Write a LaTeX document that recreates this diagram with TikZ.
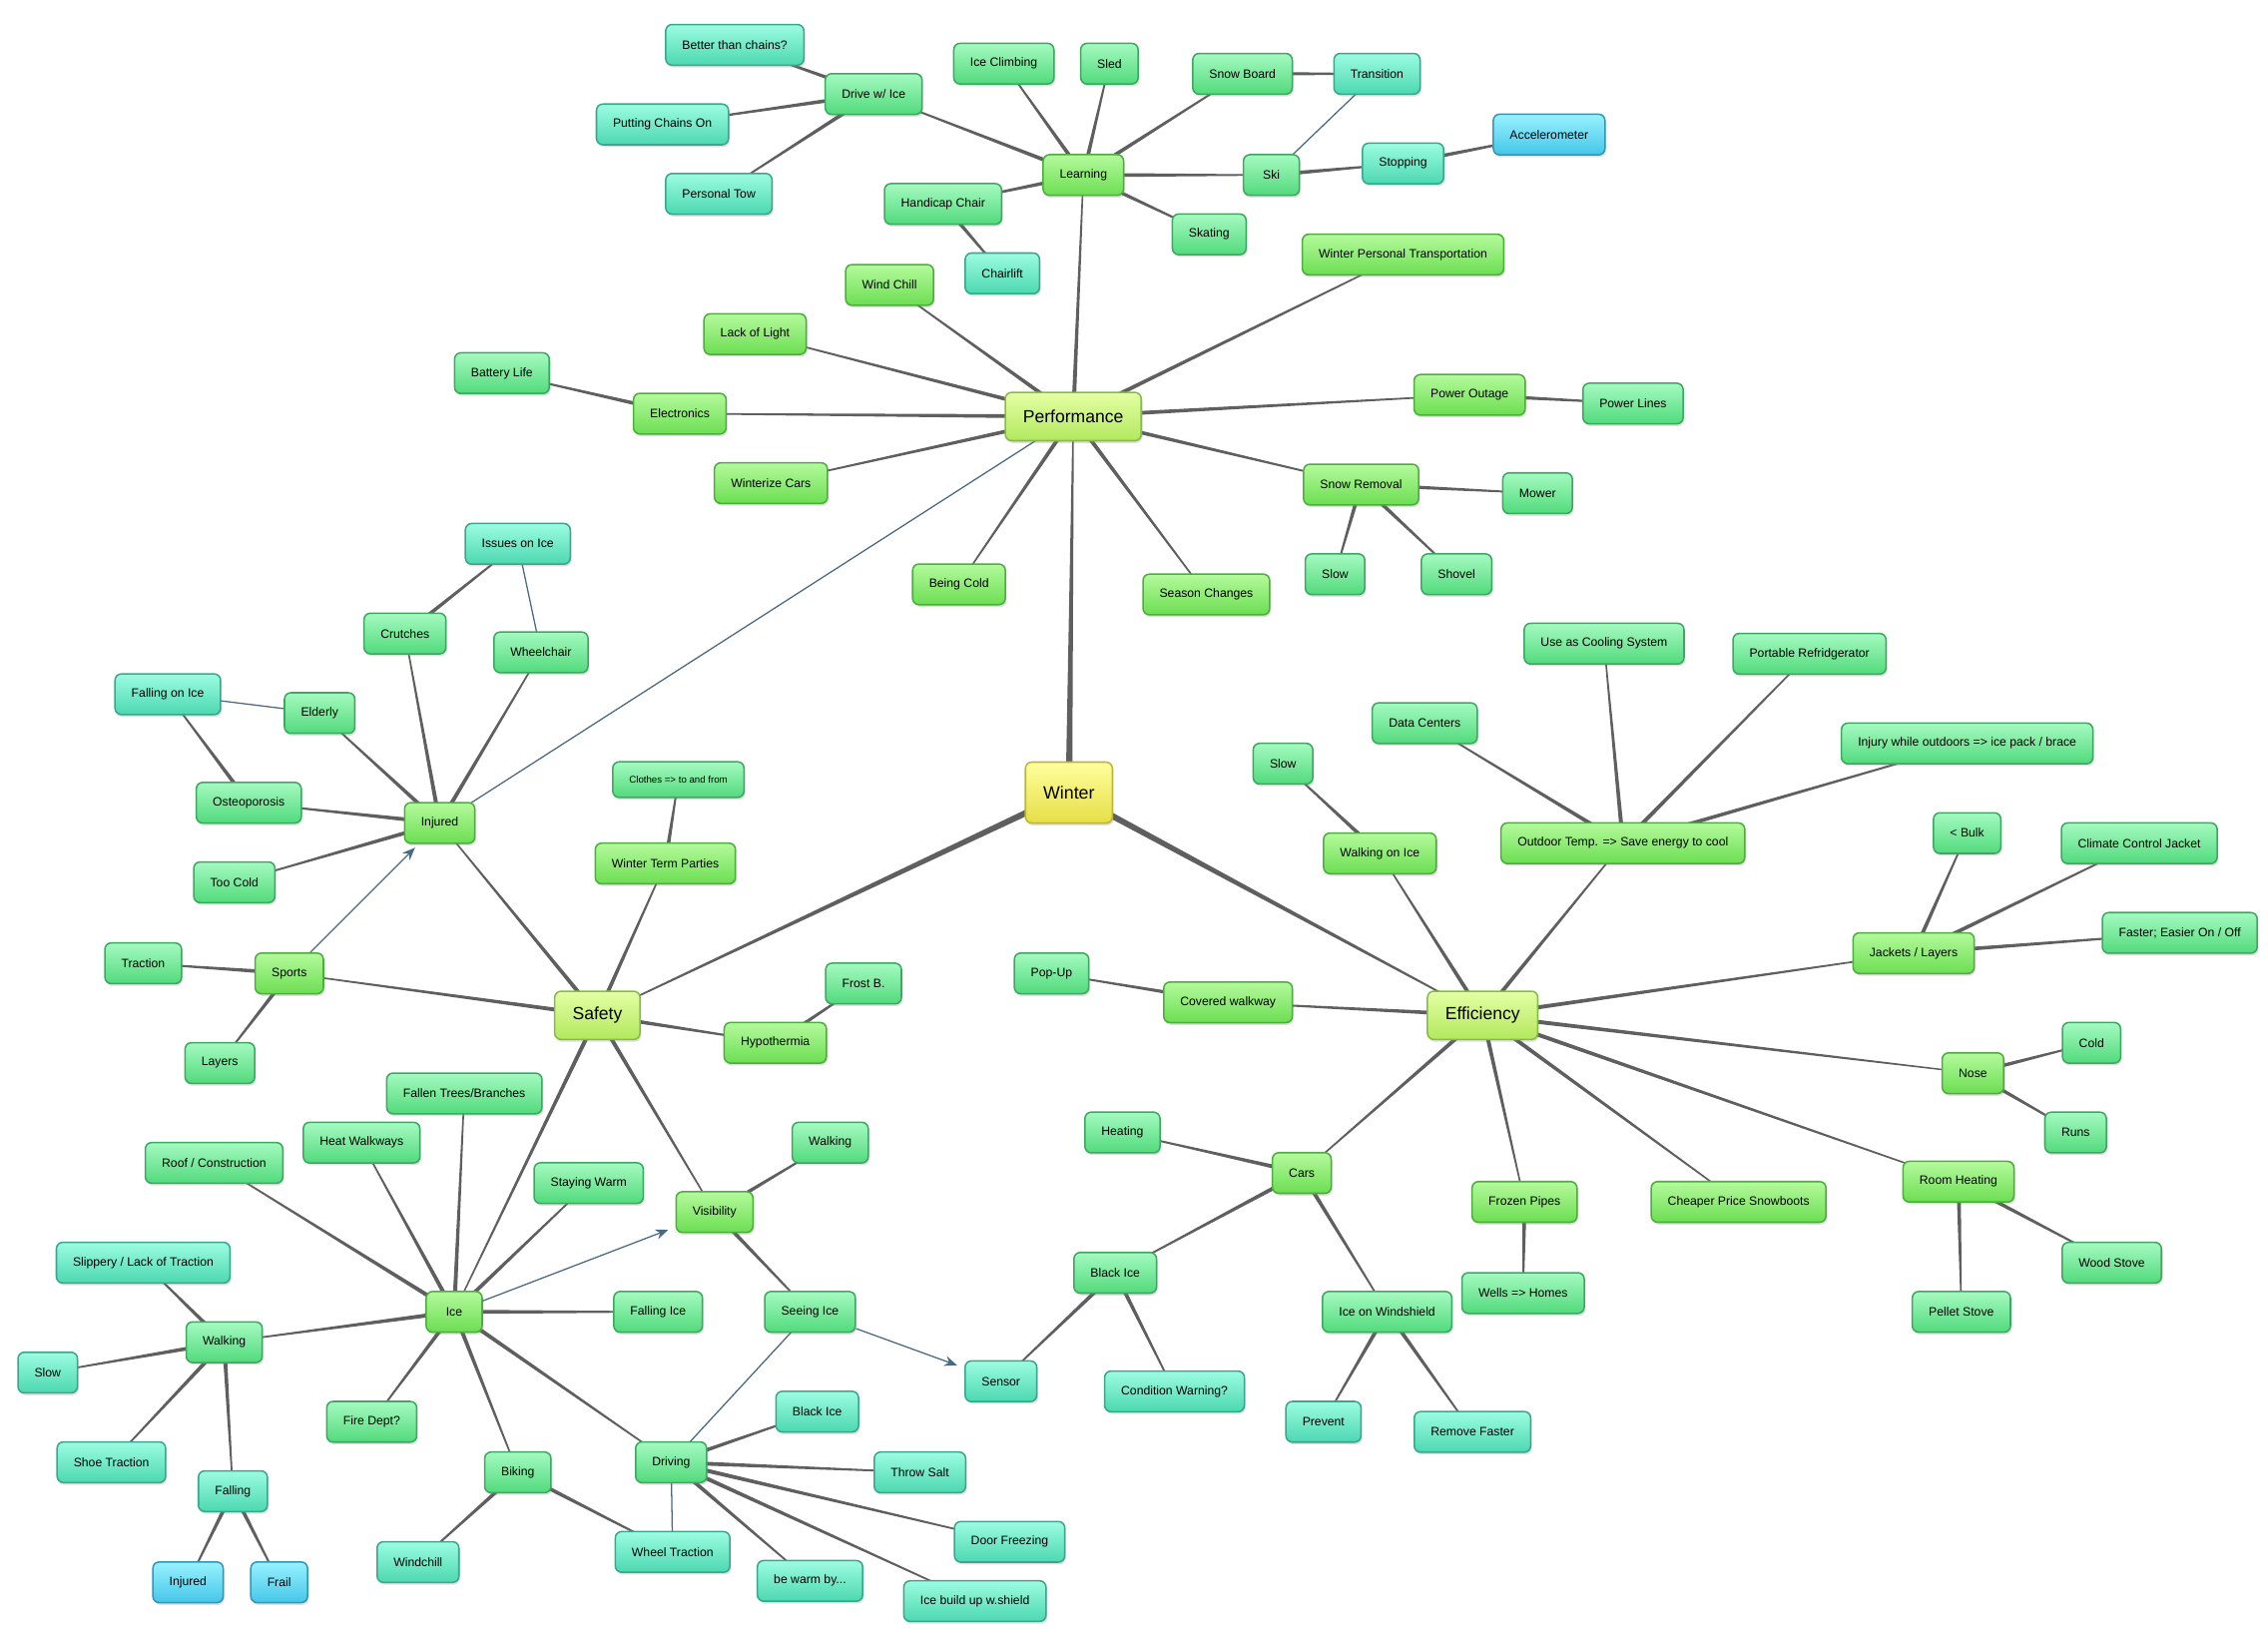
\documentclass[tikz,border=0pt]{standalone}
\usepackage{fontspec}
\setmainfont{Liberation Sans}
\usetikzlibrary{arrows.meta,backgrounds,calc,shadows}
\definecolor{linkgray}{HTML}{5F5F5F}
\definecolor{crossblue}{HTML}{4A6A82}
\definecolor{roottop}{HTML}{FFFF9C}
\definecolor{rootbot}{HTML}{E6DE48}
\definecolor{rootline}{HTML}{BDB43C}
\definecolor{maintop}{HTML}{E4FFA4}
\definecolor{mainbot}{HTML}{B2E85E}
\definecolor{mainline}{HTML}{86BC44}
\definecolor{subtop}{HTML}{B4FA9C}
\definecolor{subbot}{HTML}{6CDE52}
\definecolor{subline}{HTML}{4CAE3C}
\definecolor{itemtop}{HTML}{A4FAC0}
\definecolor{itembot}{HTML}{52DA7C}
\definecolor{itemline}{HTML}{3CA862}
\definecolor{detailtop}{HTML}{9CFCE2}
\definecolor{detailbot}{HTML}{4CD8B0}
\definecolor{detailline}{HTML}{3AA68E}
\definecolor{extratop}{HTML}{98F2FF}
\definecolor{extrabot}{HTML}{44C6E8}
\definecolor{extraline}{HTML}{3296B8}
\tikzset{%
	box/.style     = {rectangle, rounded corners=2.5pt, line width=0.6pt, minimum height=16pt, minimum width=22pt, inner xsep=6.5pt, inner ysep=2pt, font=\fontsize{4.8}{5.5}\selectfont, drop shadow={opacity=0.25, shadow xshift=0.5pt, shadow yshift=-0.9pt}},
	root/.style    = {box, draw=rootline, top color=roottop, bottom color=rootbot, minimum height=24pt, inner xsep=7pt, font=\fontsize{7}{8}\selectfont}, % Winter
	main/.style    = {box, draw=mainline, top color=maintop, bottom color=mainbot, minimum height=19pt, inner xsep=7pt, font=\fontsize{6.9}{8}\selectfont},
	sub/.style     = {box, draw=subline, top color=subtop, bottom color=subbot},
	item/.style    = {box, draw=itemline, top color=itemtop, bottom color=itembot},
	detail/.style  = {box, draw=detailline, top color=detailtop, bottom color=detailbot},
	extra/.style   = {box, draw=extraline, top color=extratop, bottom color=extrabot},
	link/.style    = {fill=linkgray},
	cross/.style   = {draw=crossblue, line width=0.5pt},
}
% tapered connector, thick at the first node
\newcommand{\taper}[3][0.85pt]{%
	\fill[link] let \p1=(#2.center), \p2=(#3.center), \n1={atan2(\y2-\y1,\x2-\x1)+90} in
		($(\p1)+(\n1:#1)$) -- ($(\p2)+(\n1:0.25pt)$) -- ($(\p2)+(\n1:-0.25pt)$) -- ($(\p1)+(\n1:-#1)$) -- cycle;}
\begin{document}
\begin{tikzpicture}[x=0.02cm, y=-0.02cm]
	\useasboundingbox (0,0) rectangle (1568,1130);
	% centre and main topics
	\node[root] (winter) at (739,548) {Winter};
	\node[main] (perf) at (742,288) {Performance};
	\node[main] (safety) at (413,702) {Safety};
	\node[main] (effi) at (1025,702) {Efficiency};
	% Performance
	\node[sub] (learn) at (749,121) {Learning};
	\node[sub] (wpt) at (970,176) {Winter Personal Transportation};
	\node[sub] (wind) at (615,197) {Wind Chill};
	\node[sub] (lack) at (522,231) {Lack of Light};
	\node[sub] (elec) at (470,286) {Electronics};
	\node[sub] (wcars) at (533,334) {Winterize Cars};
	\node[sub] (cold) at (663,404) {Being Cold};
	\node[sub] (season) at (834,411) {Season Changes};
	\node[sub] (snow) at (941,335) {Snow Removal};
	\node[sub] (power) at (1016,273) {Power Outage};
	\node[item] (drive) at (604,65) {Drive w/ Ice};
	\node[item] (climb) at (694,44) {Ice Climbing};
	\node[item] (sled) at (767,44) {Sled};
	\node[item] (board) at (859,51) {Snow Board};
	\node[item] (ski) at (879,121) {Ski};
	\node[item] (skate) at (836,162) {Skating};
	\node[item] (chair) at (652,141) {Handicap Chair};
	\node[item] (battery) at (347,258) {Battery Life};
	\node[item] (lines) at (1129,279) {Power Lines};
	\node[item] (mower) at (1063,341) {Mower};
	\node[item] (snowslow) at (923,397) {Slow};
	\node[item] (shovel) at (1007,397) {Shovel};
	\node[detail] (better) at (508,31) {Better than chains?};
	\node[detail] (chains) at (458,86) {Putting Chains On};
	\node[detail] (tow) at (497,134) {Personal Tow};
	\node[detail] (trans) at (952,51) {Transition};
	\node[detail] (stop) at (970,113) {Stopping};
	\node[detail] (lift) at (693,189) {Chairlift};
	\node[extra] (accel) at (1071,93) {Accelerometer};
	% Safety
	\node[sub] (injured) at (304,569) {Injured};
	\node[sub] (sports) at (200,673) {Sports};
	\node[sub] (parties) at (460,597) {Winter Term Parties};
	\node[sub] (hypo) at (536,721) {Hypothermia};
	\node[sub] (ice) at (314,907) {Ice};
	\node[sub] (vis) at (494,838) {Visibility};
	\node[item] (crutch) at (280,438) {Crutches};
	\node[item] (wheel) at (374,451) {Wheelchair};
	\node[item] (elderly) at (221,493) {Elderly};
	\node[item] (osteo) at (172,555) {Osteoporosis};
	\node[item] (toocold) at (162,610) {Too Cold};
	\node[item] (traction) at (99,666) {Traction};
	\node[item] (layers) at (152,735) {Layers};
	\node[item, font=\fontsize{3.8}{4.5}\selectfont, minimum height=14pt] (clothes) at (469,539) {Clothes => to and from};
	\node[item] (frost) at (597,680) {Frost B.};
	\node[item] (roof) at (148,804) {Roof / Construction};
	\node[item] (heatw) at (250,790) {Heat Walkways};
	\node[item] (fallen) at (321,756) {Fallen Trees/Branches};
	\node[item] (warm) at (407,818) {Staying Warm};
	\node[item] (fallingice) at (455,907) {Falling Ice};
	\node[item] (walk) at (155,928) {Walking};
	\node[item] (fire) at (257,983) {Fire Dept?};
	\node[item] (bike) at (358,1018) {Biking};
	\node[item] (drv) at (464,1011) {Driving};
	\node[item] (viswalk) at (574,790) {Walking};
	\node[item] (seeing) at (560,907) {Seeing Ice};
	\node[detail] (issues) at (358,376) {Issues on Ice};
	\node[detail] (fallice) at (116,480) {Falling on Ice};
	\node[detail] (slippery) at (99,873) {Slippery / Lack of Traction};
	\node[detail] (wslow) at (33,949) {Slow};
	\node[detail] (shoe) at (77,1011) {Shoe Traction};
	\node[detail] (falling) at (161,1031) {Falling};
	\node[detail] (windchill) at (289,1080) {Windchill};
	\node[detail] (wheeltr) at (465,1073) {Wheel Traction};
	\node[detail] (blackice) at (565,976) {Black Ice};
	\node[detail] (salt) at (636,1018) {Throw Salt};
	\node[detail] (door) at (698,1066) {Door Freezing};
	\node[detail] (bewarm) at (560,1093) {be warm by...};
	\node[detail] (buildup) at (674,1107) {Ice build up w.shield};
	\node[extra] (finj) at (130,1094) {Injured};
	\node[extra] (frail) at (193,1094) {Frail};
	% Efficiency
	\node[sub] (walkice) at (954,590) {Walking on Ice};
	\node[sub] (outdoor) at (1122,583) {Outdoor Temp. => Save energy to cool};
	\node[sub] (jackets) at (1323,659) {Jackets / Layers};
	\node[sub] (nose) at (1364,742) {Nose};
	\node[sub] (room) at (1354,817) {Room Heating};
	\node[sub] (cheap) at (1202,831) {Cheaper Price Snowboots};
	\node[sub] (pipes) at (1054,831) {Frozen Pipes};
	\node[sub] (cars) at (900,811) {Cars};
	\node[sub] (covered) at (849,693) {Covered walkway};
	\node[item] (eslow) at (887,528) {Slow};
	\node[item] (data) at (985,500) {Data Centers};
	\node[item] (cooling) at (1109,445) {Use as Cooling System};
	\node[item] (fridge) at (1251,452) {Portable Refridgerator};
	\node[item] (injury) at (1360,514) {Injury while outdoors => ice pack / brace};
	\node[item] (bulk) at (1360,576) {< Bulk};
	\node[item] (climate) at (1479,583) {Climate Control Jacket};
	\node[item] (faster) at (1507,645) {Faster; Easier On / Off};
	\node[item] (ecold) at (1446,721) {Cold};
	\node[item] (runs) at (1435,783) {Runs};
	\node[item] (pellet) at (1356,907) {Pellet Stove};
	\node[item] (wood) at (1460,873) {Wood Stove};
	\node[item] (wells) at (1053,894) {Wells => Homes};
	\node[item] (popup) at (727,673) {Pop-Up};
	\node[item] (heating) at (776,783) {Heating};
	\node[item] (cblack) at (771,880) {Black Ice};
	\node[item] (windsh) at (959,907) {Ice on Windshield};
	\node[detail] (sensor) at (692,955) {Sensor};
	\node[detail] (warning) at (812,962) {Condition Warning?};
	\node[detail] (prevent) at (915,983) {Prevent};
	\node[detail] (remove) at (1018,990) {Remove Faster};
	% connectors
	\begin{scope}[on background layer]
		\fill[white] (0,0) rectangle (1568,1130);
		\taper[1.3pt]{winter}{perf}
		\taper[1.3pt]{winter}{safety}
		\taper[1.3pt]{winter}{effi}
		\foreach \a/\b in {perf/learn, perf/wpt, perf/wind, perf/lack, perf/elec, perf/wcars, perf/cold, perf/season, perf/snow, perf/power,
			learn/drive, learn/climb, learn/sled, learn/board, learn/ski, learn/skate, learn/chair,
			drive/better, drive/chains, drive/tow, board/trans, ski/stop, stop/accel, chair/lift,
			elec/battery, power/lines, snow/mower, snow/snowslow, snow/shovel}
			\taper{\a}{\b};
		\foreach \a/\b in {safety/injured, safety/sports, safety/parties, safety/hypo, safety/ice, safety/vis,
			injured/crutch, injured/wheel, injured/elderly, injured/osteo, injured/toocold,
			crutch/issues, osteo/fallice, sports/traction, sports/layers, parties/clothes, hypo/frost,
			ice/roof, ice/heatw, ice/fallen, ice/warm, ice/fallingice, ice/walk, ice/fire, ice/bike, ice/drv,
			walk/slippery, walk/wslow, walk/shoe, walk/falling, falling/finj, falling/frail,
			bike/windchill, bike/wheeltr, drv/blackice, drv/salt, drv/door, drv/bewarm, drv/buildup,
			vis/viswalk, vis/seeing}
			\taper{\a}{\b};
		\foreach \a/\b in {effi/walkice, effi/outdoor, effi/jackets, effi/nose, effi/room, effi/cheap, effi/pipes, effi/cars, effi/covered,
			walkice/eslow, outdoor/data, outdoor/cooling, outdoor/fridge, outdoor/injury,
			jackets/bulk, jackets/climate, jackets/faster, nose/ecold, nose/runs, room/pellet, room/wood,
			pipes/wells, covered/popup, cars/heating, cars/cblack, cars/windsh,
			cblack/sensor, cblack/warning, windsh/prevent, windsh/remove}
			\taper{\a}{\b};
		% cross links
		\draw[cross] (injured.center) -- (perf.center);
		\draw[cross] (trans.center) -- (ski.center);
		\draw[cross] (issues.center) -- (wheel.center);
		\draw[cross] (fallice.center) -- (elderly.center);
		\draw[cross] (seeing.center) -- (drv.center);
		\draw[cross] (drv.center) -- (wheeltr.center);
	\end{scope}
	\draw[cross, -{Stealth[length=5pt, width=4pt]}, shorten >=2pt] (sports) -- (injured);
	\draw[cross, -{Stealth[length=5pt, width=4pt]}, shorten >=3pt] (ice) -- (vis);
	\draw[cross, -{Stealth[length=5pt, width=4pt]}, shorten >=3pt] (seeing) -- (sensor);
\end{tikzpicture}
\end{document}
